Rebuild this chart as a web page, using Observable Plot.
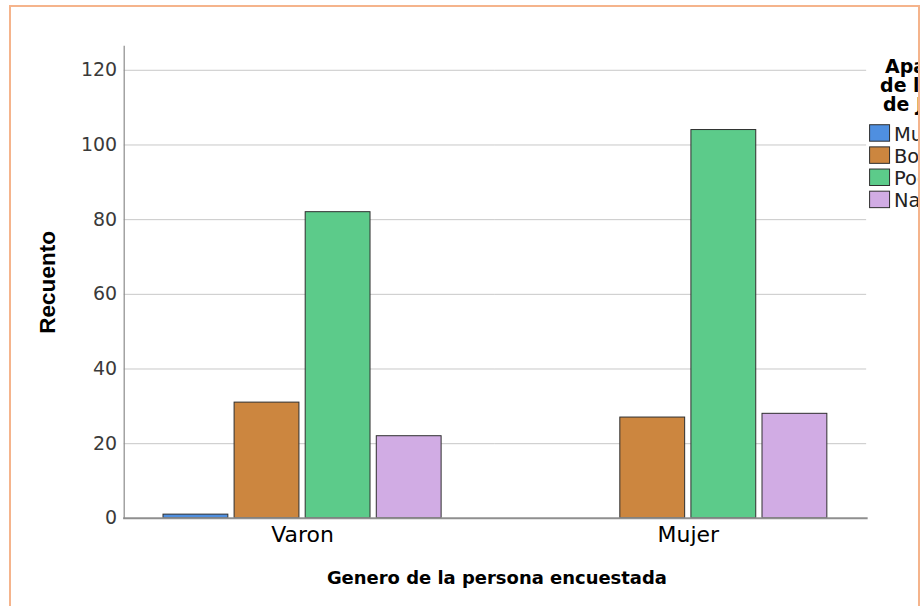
<!DOCTYPE html>
<html>
<head>
<meta charset="utf-8">
<script src="https://cdn.jsdelivr.net/npm/d3@7"></script>
<script src="https://cdn.jsdelivr.net/npm/@observablehq/plot@0.6"></script>
<style>
  html, body { margin: 0; padding: 0; background: #fff; width: 920px; height: 606px; overflow: hidden; }
  #frame { position: absolute; left: 9px; top: 5px; width: 911px; height: 700px; box-sizing: border-box;
           border: 2px solid #f5b48c; border-bottom: none; overflow: hidden; background: #fff; }
  #chart { position: absolute; left: -11px; top: -7px; }
</style>
</head>
<body>
<div id="frame"><div id="chart"></div></div>
<script>
// ---- data ----
const generos = ["Varon", "Mujer"];
const apariencias = ["Muy bonita", "Bonita", "Poco bonita", "Nada bonita"];
const recuentoVaron = [1, 31, 82, 22];
const recuentoMujer = [0, 27, 104, 28];
const colores = ["#4f8fe0", "#cc863f", "#5ccb8a", "#d1ace4"];
const yTicks = [0, 20, 40, 60, 80, 100, 120];
const tituloEjeX = "Genero de la persona encuestada";
const tituloEjeY = "Recuento";
const tituloLeyenda = ["Apariencia", "de la imagen", "de Jesús"];

const rows = generos.flatMap((g, gi) =>
  apariencias.map((a, ai) => ({
    genero: g,
    apariencia: a,
    recuento: (gi === 0 ? recuentoVaron : recuentoMujer)[ai]
  }))
);

const font = "'DejaVu Sans', Verdana, sans-serif";
const fontNarrow = "'Liberation Sans', Arial, sans-serif";
const grid = yTicks.filter(d => d > 0);
const outer = 39.4;   // space between the plot edge and the first/last group
const halfGap = 53.9; // half the space between the two groups

const plot = Plot.plot({
  width: 920,
  height: 606,
  marginLeft: 124,
  marginRight: 52,
  marginTop: 46,
  marginBottom: 87,
  style: { fontFamily: font, background: "transparent", overflow: "visible" },
  fx: { domain: generos, paddingInner: 0.279, paddingOuter: 0.1018, round: false, label: null },
  x: { domain: apariencias, paddingInner: 0.088, paddingOuter: 0, round: false, axis: null },
  y: { domain: [0, 126.4], axis: null },
  color: { domain: apariencias, range: colores },
  marks: [
    // horizontal grid lines, extended across the gap between the two groups
    Plot.ruleY(grid, { fx: () => generos[0], y: d => d, insetLeft: -outer, insetRight: -halfGap, stroke: "#c8c8c8", strokeWidth: 1 }),
    Plot.ruleY(grid, { fx: () => generos[1], y: d => d, insetLeft: -halfGap, insetRight: -outer, stroke: "#c8c8c8", strokeWidth: 1 }),
    Plot.barY(rows.filter(d => d.recuento > 0), {
      fx: "genero", x: "apariencia", y: "recuento", fill: "apariencia",
      stroke: "#2e2e2e", strokeWidth: 1
    }),
    Plot.frame({ facet: "super", anchor: "bottom", insetLeft: -outer, insetRight: -outer, stroke: "#8f8f8f", strokeWidth: 2 }),
    Plot.frame({ facet: "super", anchor: "left", insetLeft: -outer, stroke: "#8a8a8a", strokeWidth: 1.2 }),
    Plot.axisY({ ticks: yTicks, tickSize: 0, tickPadding: 46.5, fontSize: 19, fill: "#3a3a3a", label: null }),
    Plot.axisFx({ anchor: "bottom", tickSize: 0, tickPadding: 8, fontSize: 22, fill: "#000", label: null }),
    Plot.text([tituloEjeX], {
      facet: "super", text: d => d, frameAnchor: "bottom", lineAnchor: "middle", textAnchor: "middle",
      dx: 1.5, dy: 60, fontSize: 18, fontWeight: "bold", fill: "#000"
    }),
    Plot.text([tituloEjeY], {
      facet: "super", text: d => d, frameAnchor: "left", lineAnchor: "middle", textAnchor: "middle",
      dx: -116, rotate: -90, fontSize: 22.6, fontWeight: "bold", fill: "#000", fontFamily: fontNarrow
    })
  ]
});

document.getElementById("chart").appendChild(plot);

// ---- legend (clipped at the right edge, as in the reference) ----
const svg = d3.select(plot);
const leg = svg.append("g").attr("font-family", font).attr("text-anchor", "start");
const titleX = [887, 882, 885];
tituloLeyenda.forEach((t, i) => {
  leg.append("text").attr("x", titleX[i]).attr("y", 73 + i * 19.2)
    .attr("font-size", 19).attr("font-weight", "bold").attr("fill", "#000").text(t);
});
apariencias.forEach((a, i) => {
  const top = 125 + i * 22.2;
  leg.append("rect").attr("x", 871.5).attr("y", top).attr("width", 20).attr("height", 16.5)
    .attr("fill", colores[i]).attr("stroke", "#2e2e2e").attr("stroke-width", 1);
  leg.append("text").attr("x", 896).attr("y", top + 16)
    .attr("font-size", 19.5).attr("fill", "#222").text(a);
});
</script>
</body>
</html>
